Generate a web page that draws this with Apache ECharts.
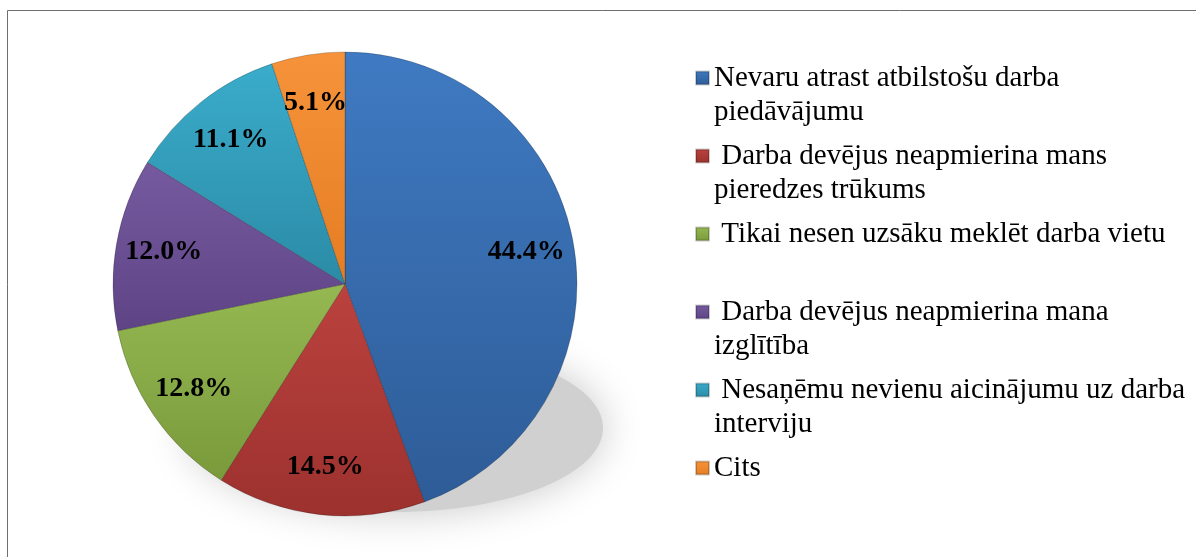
<!DOCTYPE html>
<html>
<head>
<meta charset="utf-8">
<script src="https://cdn.jsdelivr.net/npm/echarts@6/dist/echarts.min.js"></script>
<style>
  html, body { margin: 0; padding: 0; background: #fff; }
  #chart { width: 1196px; height: 557px; }
</style>
</head>
<body>
<div id="chart"></div>
<script>
// kategorijas (ar rindas pārnesumu kā leģendā)
const categories = [
  'Nevaru atrast atbilstošu darba\npiedāvājumu',
  ' Darba devējus neapmierina mans\npieredzes trūkums',
  ' Tikai nesen uzsāku meklēt darba vietu',
  ' Darba devējus neapmierina mana\nizglītība',
  ' Nesaņēmu nevienu aicinājumu uz darba\ninterviju',
  'Cits'
]
const values = [44.4, 14.5, 12.8, 12.0, 11.1, 5.1]
const colorsTop = ['#3f7ac2', '#bb423e', '#95b852', '#765aa0', '#3aaccb', '#f6933a']
const colorsBottom = ['#2e5c97', '#9c312e', '#7a9a3b', '#5e4485', '#2b8ba6', '#e57d22']

const chart = echarts.init(document.getElementById('chart'))

const slices = categories.map((name, i) => ({
  name: name,
  value: values[i],
  itemStyle: {
    color: {
      type: 'linear', x: 0, y: 0, x2: 0, y2: 1,
      colorStops: [
        { offset: 0, color: colorsTop[i] },
        { offset: 1, color: colorsBottom[i] }
      ]
    }
  }
}))

const option = {
  backgroundColor: '#fff',
  animation: false,
  graphic: [
    { // rāmis
      type: 'rect',
      z: -20,
      shape: { x: 7.5, y: 10.5, width: 1200, height: 560 },
      style: { fill: 'none', stroke: '#6e6e6e', lineWidth: 1 }
    },
    { // ēna
      type: 'ellipse',
      z: -10,
      shape: { cx: 395, cy: 428, rx: 208, ry: 84 },
      style: { fill: '#d0d0d0', shadowBlur: 40, shadowColor: '#c8c8c8' }
    }
  ],
  legend: {
    orient: 'vertical',
    left: 690,
    top: 22,
    itemWidth: 13,
    itemHeight: 13,
    itemGap: -24,
    icon: 'rect',
    data: categories,
    formatter: function (name) {
      // tukša rinda augšā, lai pirmā rinda būtu pretī ikonai
      return '\u00a0\n' + (name.indexOf('\n') < 0 ? name + '\n\u00a0' : name)
    },
    textStyle: {
      fontFamily: 'Liberation Serif',
      fontSize: 29,
      lineHeight: 34,
      color: '#000'
    }
  },
  series: [
    {
      type: 'pie',
      center: [345, 284],
      radius: 232,
      startAngle: 90,
      data: slices,
      label: { show: false },
      labelLine: { show: false },
      itemStyle: { borderColor: 'rgba(0,0,0,0.2)', borderWidth: 1 },
      emphasis: { disabled: true }
    },
    {
      type: 'pie',
      center: [345, 284],
      radius: [130, 232],
      startAngle: 90,
      silent: true,
      data: categories.map((name, i) => ({ name: name, value: values[i] })),
      itemStyle: { color: 'rgba(0,0,0,0)' },
      labelLine: { show: false },
      label: {
        show: true,
        position: 'inside',
        fontFamily: 'Liberation Serif',
        fontWeight: 'bold',
        fontSize: 28,
        color: '#000',
        formatter: function (p) { return p.value.toFixed(1) + '%' }
      },
      emphasis: { disabled: true }
    }
  ]
}

chart.setOption(option)
</script>
</body>
</html>
